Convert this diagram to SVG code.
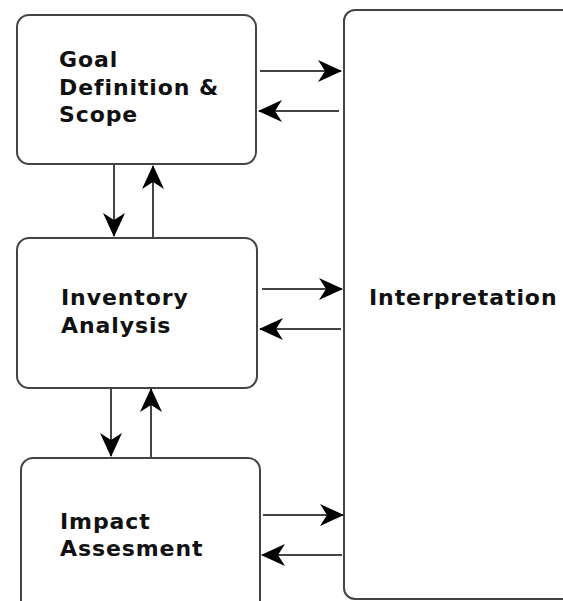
<svg xmlns="http://www.w3.org/2000/svg" width="563" height="601" viewBox="0 0 563 601">
  <style>
    .box { fill: #ffffff; stroke: #444444; stroke-width: 2; }
    .lbl { font-family: "DejaVu Sans", Verdana, sans-serif; font-size: 22px; font-weight: bold; letter-spacing: 0.9px; fill: #111111; }
    .conn { stroke: #444444; stroke-width: 2; fill: none; marker-end: url(#arr); }
  </style>
  <defs>
    <marker id="arr" markerUnits="userSpaceOnUse" markerWidth="24" markerHeight="22" refX="23" refY="11" orient="auto" viewBox="0 0 24 22">
      <path d="M0,0 L24,11 L0,22 L7,11 z" fill="#000000"/>
    </marker>
  </defs>
  <rect width="563" height="601" fill="#ffffff"/>
  <g id="interpretation">
    <rect class="box" x="344" y="10" width="280" height="589" rx="11"/>
    <text class="lbl" x="369" y="305">Interpretation</text>
  </g>
  <g id="goal">
    <rect class="box" x="17" y="15" width="239" height="149" rx="12"/>
    <text class="lbl" x="59" y="67">Goal</text>
    <text class="lbl" x="59" y="95">Definition &amp;</text>
    <text class="lbl" x="59" y="122">Scope</text>
  </g>
  <g id="inventory">
    <rect class="box" x="17" y="238" width="240" height="150" rx="12"/>
    <text class="lbl" x="61" y="305">Inventory</text>
    <text class="lbl" x="61" y="333">Analysis</text>
  </g>
  <g id="impact">
    <rect class="box" x="21" y="458" width="239" height="160" rx="12"/>
    <text class="lbl" x="60" y="529">Impact</text>
    <text class="lbl" x="60" y="556">Assesment</text>
  </g>
  <g id="connectors">
    <line class="conn" x1="114" y1="165" x2="114" y2="236"/>
    <line class="conn" x1="153" y1="237" x2="153" y2="166"/>
    <line class="conn" x1="111" y1="389" x2="111" y2="456"/>
    <line class="conn" x1="151" y1="457" x2="151" y2="389"/>
    <line class="conn" x1="260" y1="71" x2="341" y2="71"/>
    <line class="conn" x1="339" y1="111" x2="259" y2="111"/>
    <line class="conn" x1="262" y1="289" x2="342" y2="289"/>
    <line class="conn" x1="341" y1="329" x2="260" y2="329"/>
    <line class="conn" x1="263" y1="515" x2="343" y2="515"/>
    <line class="conn" x1="342" y1="555" x2="262" y2="555"/>
  </g>
</svg>
